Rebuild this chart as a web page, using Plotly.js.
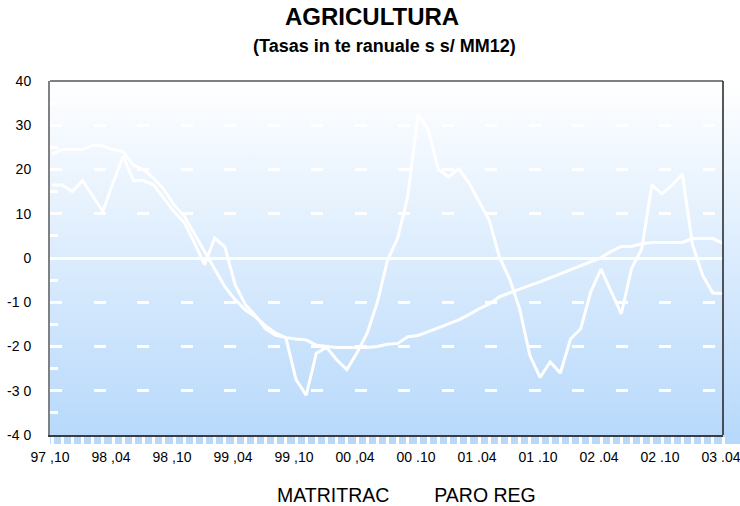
<!DOCTYPE html>
<html>
<head>
<meta charset="utf-8">
<script src="https://cdn.plot.ly/plotly-3.0.1.min.js"></script>
<style>html,body{margin:0;padding:0;background:#fff;}#chart{width:740px;height:506px;}</style>
</head>
<body>
<div id="chart"></div>
<script>
// Monthly series, 97.10 .. 03.04
const seriesNames = ["MATRITRAC", "PARO REG"];
const matritrac = [16.5, 16.5, 15, 17.5, 14, 10.5, 17, 23, 17.5, 17.5,
  16.5, 13.5, 10.5, 8, 3.5, -1.5, 4.5, 2.5, -6, -10.5,
  -13, -16, -17.5, -18, -27.5, -31, -21.5, -20.2, -23, -25.2,
  -21.4, -17, -10, -0.5, 4.5, 14, 32.5, 29, 20, 18.3,
  20.2, 17, 12.9, 8.6, 0.3, -4.7, -11.5, -22, -27, -23.5,
  -26, -18.3, -16, -7.6, -2.5, -7.6, -12.6, -2.4, 2, 16.5,
  14.5, 16.5, 19, 3, -3.9, -7.9, -8];
const paroReg = [23.5, 24.5, 24.5, 24.5, 25.5, 25.3, 24.5, 24, 21, 20,
  18, 15.5, 12, 9.5, 5.5, 1.5, -2.4, -6.5, -9.4, -11.7,
  -13.3, -15.3, -17, -18, -18.3, -18.5, -19.7, -20, -20.2, -20.2,
  -20.2, -20.2, -20, -19.5, -19.3, -17.8, -17.5, -16.7, -15.8, -14.9,
  -14, -12.8, -11.5, -10.4, -8.8, -7.9, -7, -6.2, -5.4, -4.5,
  -3.5, -2.6, -1.7, -0.8, 0.1, 1.5, 2.6, 2.6, 3.2, 3.5,
  3.5, 3.5, 3.5, 4.4, 4.4, 4.4, 3.3];
const xTickLabels = ["97 ,10", "98 ,04", "98 ,10", "99 ,04", "99 ,10", "00 ,04",
  "00 .10", "01 .04", "01 .10", "02 .04", "02 .10", "03 .04"];
const yTickValues = [40, 30, 20, 10, 0, -10, -20, -30, -40];
const yTickLabels = ["40", "30", "20", "10", "0", "-1 0", "-2 0", "-3 0", "-4 0"];
const titleText = "AGRICULTURA";
const subtitleText = "(Tasas in te ranuale s s/ MM12)";

const monthIdx = matritrac.map((_, i) => i);
const labelIdx = xTickLabels.map((_, k) => k * 6);

const FONT = '"Liberation Sans", Arial, sans-serif';

const svg = '<svg xmlns="http://www.w3.org/2000/svg" width="100" height="100" preserveAspectRatio="none">' +
  '<defs><linearGradient id="g" x1="0" y1="0" x2="0" y2="1">' +
  '<stop offset="0" stop-color="#ffffff"/><stop offset="1" stop-color="#b6d8fb"/>' +
  '</linearGradient></defs><rect width="100" height="100" fill="url(#g)"/></svg>';
const bgSrc = 'data:image/svg+xml;charset=utf-8,' + encodeURIComponent(svg);

const traces = [
  {x: monthIdx, y: matritrac, name: seriesNames[0], type: 'scatter', mode: 'lines',
   line: {color: '#ffffff', width: 3}},
  {x: monthIdx, y: paroReg, name: seriesNames[1], type: 'scatter', mode: 'lines',
   line: {color: '#ffffff', width: 3}}
];

const L = 50, R = 17, T = 81, B = 71;
const plotW = 740 - L - R, plotH = 506 - T - B;
const px = x => (x - L) / plotW;
const py = y => (506 - B - y) / plotH;

const layout = {
  width: 740, height: 506,
  margin: {l: L, r: R, t: T, b: B, pad: 0, autoexpand: false},
  paper_bgcolor: '#ffffff',
  plot_bgcolor: 'rgba(0,0,0,0)',
  font: {family: FONT, color: '#000000', size: 14},
  showlegend: true,
  legend: {orientation: 'h', x: px(237), xanchor: 'left', y: py(495), yanchor: 'middle',
    font: {family: FONT, size: 19.5, color: '#000'}, bgcolor: 'rgba(0,0,0,0)', itemclick: false},
  xaxis: {
    range: [-0.2, 66], fixedrange: true, automargin: false,
    tickmode: 'array', tickvals: labelIdx, ticktext: xTickLabels,
    ticks: 'outside', ticklen: 9, tickwidth: 3, tickcolor: '#ffffff',
    ticklabeloverflow: 'allow', ticklabelshift: -2,
    minor: {tickmode: 'array', tickvals: monthIdx, ticks: 'outside', ticklen: 9, tickwidth: 3, tickcolor: '#ffffff', showgrid: false},
    showgrid: false, zeroline: false,
    showline: true, linecolor: '#3c3c3c', linewidth: 1.5,
    tickfont: {family: FONT, size: 14, color: '#000'}
  },
  yaxis: {
    range: [-40, 40], fixedrange: true, automargin: false,
    tickmode: 'array', tickvals: yTickValues, ticktext: yTickLabels,
    ticks: 'outside', ticklen: 14, tickcolor: 'rgba(0,0,0,0)',
    minor: {tickmode: 'array', tickvals: [-35, -25, -15, -5, 5, 15, 25, 35], ticks: 'inside', ticklen: 8, tickwidth: 3, tickcolor: '#ffffff', showgrid: false},
    showgrid: true, gridcolor: '#ffffff', gridwidth: 3, griddash: '12px,31.5px',
    zeroline: true, zerolinecolor: '#ffffff', zerolinewidth: 3,
    showline: true, linecolor: '#808080', linewidth: 2,
    tickfont: {family: FONT, size: 14, color: '#000'}
  },
  images: [{
    source: bgSrc, xref: 'paper', yref: 'paper',
    x: 0, y: py(80), sizex: px(740), sizey: (444 - 80) / plotH,
    xanchor: 'left', yanchor: 'top', sizing: 'stretch', layer: 'below'
  }],
  shapes: [
    {type: 'line', xref: 'paper', yref: 'paper', x0: 0, x1: 1, y0: 1, y1: 1, line: {color: '#808080', width: 2}},
    {type: 'line', xref: 'paper', yref: 'paper', x0: 1, x1: 1, y0: 0, y1: 1, line: {color: '#202020', width: 1.5}}
  ],
  annotations: [
    {text: '<b>' + titleText + '</b>', xref: 'paper', yref: 'paper', x: px(372), y: py(17),
     xanchor: 'center', yanchor: 'middle', showarrow: false, font: {family: FONT, size: 24, color: '#000'}},
    {text: '<b>' + subtitleText + '</b>', xref: 'paper', yref: 'paper', x: px(384), y: py(46),
     xanchor: 'center', yanchor: 'middle', showarrow: false, font: {family: FONT, size: 18, color: '#000'}}
  ]
};

Plotly.newPlot('chart', traces, layout, {displayModeBar: false, staticPlot: true});
</script>
</body>
</html>
